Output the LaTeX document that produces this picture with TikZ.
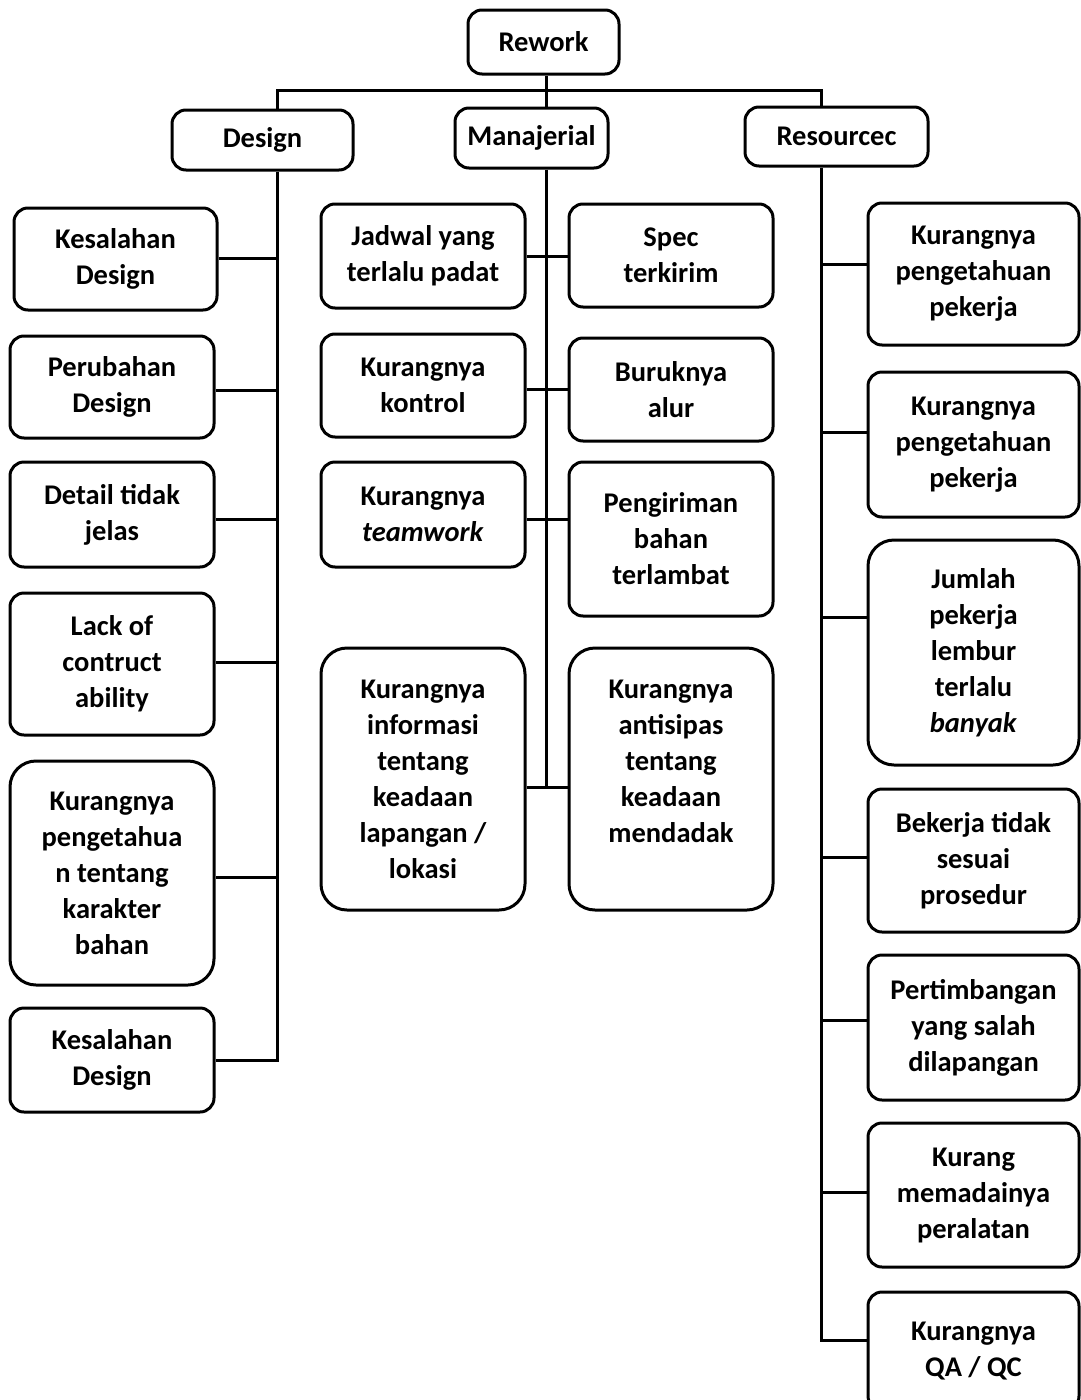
\documentclass[tikz,border=0pt]{standalone}
\usepackage{fontspec}
\setmainfont{Carlito}
\begin{document}
\begin{tikzpicture}[x=1pt,y=-1pt,
  box/.style={draw, line width=3pt, rounded corners=14pt, align=center,
    font=\fontsize{28.5}{36}\selectfont\bfseries, inner sep=0pt},
  tall/.style={box, rounded corners=26pt},
  link/.style={line width=3pt}]
\useasboundingbox (0,0) rectangle (1081,1400);

% top level
\node[box, minimum width=151, minimum height=64] (rework) at (543.5,42) {Rework};
\node[box, minimum width=181, minimum height=60] (design) at (262.5,140) {Design};
\node[box, minimum width=153, minimum height=60] (manaj) at (531.5,138) {Manajerial};
\node[box, minimum width=183, minimum height=59] (resrc) at (836.5,136.5) {Resourcec};

% trunk coordinates
\coordinate (hl) at (277,90);
\coordinate (hr) at (821,90);
\coordinate (dx) at (277,1060);
\coordinate (mx) at (546,787);
\coordinate (rx) at (821,1340);

% Design column
\node[box, minimum width=203, minimum height=102] (d1) at (115.5,259) {Kesalahan\\Design};
\node[box, minimum width=204, minimum height=102] (d2) at (112,387) {Perubahan\\Design};
\node[box, minimum width=204, minimum height=105] (d3) at (112,514.5) {Detail tidak\\jelas};
\node[box, minimum width=204, minimum height=142] (d4) at (112,664) {Lack of\\contruct\\ability};
\node[tall, minimum width=204, minimum height=224] (d5) at (112,873) {Kurangnya\\pengetahua\\n tentang\\karakter\\bahan};
\node[box, minimum width=204, minimum height=104] (d6) at (112,1060) {Kesalahan\\Design};

% Manajerial columns
\node[box, minimum width=204, minimum height=104] (ml1) at (423,256) {Jadwal yang\\terlalu padat};
\node[box, minimum width=204, minimum height=103] (ml2) at (423,385.5) {Kurangnya\\kontrol};
\node[box, minimum width=204, minimum height=105] (ml3) at (423,514.5) {Kurangnya\\\textit{teamwork}};
\node[tall, minimum width=204, minimum height=262] (ml4) at (423,779) {Kurangnya\\informasi\\tentang\\keadaan\\lapangan /\\lokasi};
\node[box, minimum width=204, minimum height=103] (mr1) at (671,255.5) {Spec\\terkirim};
\node[box, minimum width=204, minimum height=103] (mr2) at (671,389.5) {Buruknya\\alur};
\node[box, minimum width=204, minimum height=154] (mr3) at (671,539) {Pengiriman\\bahan\\terlambat};
\node[tall, minimum width=204, minimum height=262] (mr4) at (671,779) {Kurangnya\\antisipas\\tentang\\keadaan\\mendadak\\\mbox{}};

% Resourcec column
\node[box, minimum width=211, minimum height=142] (r1) at (973.5,274) {Kurangnya\\pengetahuan\\pekerja};
\node[box, minimum width=211, minimum height=145] (r2) at (973.5,444.5) {Kurangnya\\pengetahuan\\pekerja};
\node[tall, minimum width=211, minimum height=225] (r3) at (973.5,652.5) {Jumlah\\pekerja\\lembur\\terlalu\\\textit{banyak}};
\node[box, minimum width=211, minimum height=143] (r4) at (973.5,860.5) {Bekerja tidak\\sesuai\\prosedur};
\node[box, minimum width=211, minimum height=145] (r5) at (973.5,1027.5) {Pertimbangan\\yang salah\\dilapangan};
\node[box, minimum width=211, minimum height=144] (r6) at (973.5,1195) {Kurang\\memadainya\\peralatan};
\node[box, minimum width=211, minimum height=118] (r7) at (973.5,1351) {Kurangnya\\QA / QC};

% top connectors
\draw[link] (rework.south -| mx) -- (manaj.north -| mx);
\draw[link] (design.north -| dx) -- (hl) -- (hr) -- (resrc.north -| rx);

% Design connectors
\draw[link] (design.south -| dx) -- (dx) -- (d6.east);
\coordinate (dy1) at (277,258);
\coordinate (dy2) at (277,390);
\coordinate (dy3) at (277,519);
\coordinate (dy4) at (277,662);
\coordinate (dy5) at (277,877);
\draw[link] (dy1) -- (dy1 -| d1.east);
\draw[link] (dy2) -- (dy2 -| d2.east);
\draw[link] (dy3) -- (dy3 -| d3.east);
\draw[link] (dy4) -- (dy4 -| d4.east);
\draw[link] (dy5) -- (dy5 -| d5.east);

% Manajerial connectors
\draw[link] (manaj.south -| mx) -- (mx);
\coordinate (my1) at (546,256);
\coordinate (my2) at (546,389);
\coordinate (my3) at (546,519);
\draw[link] (my1 -| ml1.east) -- (my1 -| mr1.west);
\draw[link] (my2 -| ml2.east) -- (my2 -| mr2.west);
\draw[link] (my3 -| ml3.east) -- (my3 -| mr3.west);
\draw[link] (mx -| ml4.east) -- (mx -| mr4.west);

% Resourcec connectors
\draw[link] (resrc.south -| rx) -- (rx) -- (rx -| r7.west);
\coordinate (ry1) at (821,264);
\coordinate (ry2) at (821,432);
\coordinate (ry3) at (821,617);
\coordinate (ry4) at (821,857);
\coordinate (ry5) at (821,1020);
\coordinate (ry6) at (821,1192);
\draw[link] (ry1) -- (ry1 -| r1.west);
\draw[link] (ry2) -- (ry2 -| r2.west);
\draw[link] (ry3) -- (ry3 -| r3.west);
\draw[link] (ry4) -- (ry4 -| r4.west);
\draw[link] (ry5) -- (ry5 -| r5.west);
\draw[link] (ry6) -- (ry6 -| r6.west);
\end{tikzpicture}
\end{document}
